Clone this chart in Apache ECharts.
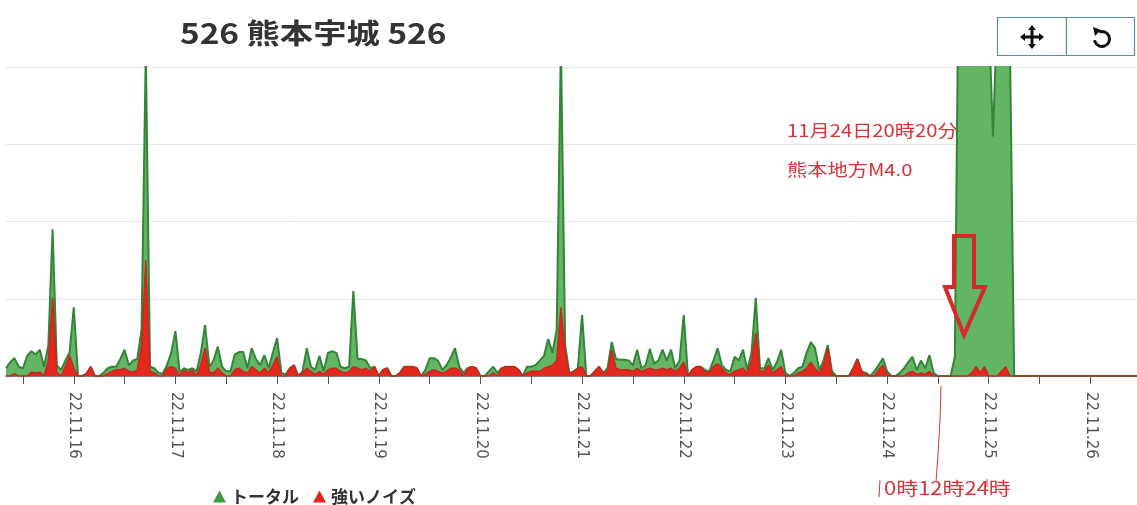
<!DOCTYPE html>
<html><head><meta charset="utf-8">
<script src="https://cdn.jsdelivr.net/npm/echarts@6/dist/echarts.min.js"></script>
<style>html,body{margin:0;padding:0;background:#fff}#c{width:1137px;height:505px}</style>
</head><body><div id="c"></div>
<script>
// hourly samples starting 22.11.15 08:00
const startDay = 15, startHour = 8;
const dayLabels = ['22.11.16','22.11.17','22.11.18','22.11.19','22.11.20','22.11.21','22.11.22','22.11.23','22.11.24','22.11.25','22.11.26'];
const seriesNames = ['トータル', '強いノイズ'];
const total = [
 10,18,23,12,10,26,32,28,34,12,40,190,14,8,20,30,89,
 0,0,3,12,0,0,4,10,12,12,22,34,14,20,22,60,420,12,10,4,3,14,30,58,
 5,10,8,10,6,30,66,12,20,38,12,6,6,28,31,31,10,36,22,14,27,10,30,49,
 4,2,10,14,0,6,36,12,8,26,6,30,32,30,12,10,12,110,22,22,20,10,12,0,
 8,10,0,0,4,12,12,12,10,0,8,23,23,20,8,14,24,36,12,4,10,12,10,0,
 0,6,12,4,10,12,12,12,8,0,12,12,14,20,26,48,30,60,430,40,4,6,10,79,
 0,0,6,12,4,10,44,22,21,21,20,14,34,10,14,35,16,20,34,20,34,10,20,79,
 0,8,12,12,8,6,20,36,14,8,6,25,20,34,8,30,101,10,10,23,8,18,34,4,
 0,4,10,12,30,44,36,8,20,40,6,0,0,0,0,10,22,6,4,0,6,14,23,6,
 0,0,4,10,18,25,8,20,10,27,4,0,0,0,0,25,600,3000,3000,3000,3000,2800,2600,470,
 310,470,2500,2000,430,0,
 0,0,0,0,0,0,0,0,0,0,0,0,0,0,0,0,0,0,0,0,0,0,0,0,0,0,0,0,0
];
const noise = [
 0,0,3,0,0,0,5,4,5,0,20,101,5,0,12,27,10,
 0,0,3,12,0,0,0,3,6,8,8,10,6,5,8,40,150,6,4,0,0,10,12,10,
 0,8,4,8,0,15,36,5,4,10,4,0,0,8,10,6,4,12,8,4,10,4,14,25,
 0,0,10,14,0,4,10,6,2,6,2,8,10,10,6,4,6,12,10,8,10,6,12,0,
 8,10,0,0,4,12,12,12,10,0,2,6,8,6,4,6,10,10,8,0,10,12,10,0,
 0,0,4,0,10,12,12,12,8,0,4,6,6,6,10,12,14,20,89,30,2,6,10,12,
 0,0,6,12,4,6,34,10,8,8,8,6,10,6,8,10,8,8,10,8,10,6,10,18,
 0,8,12,12,6,4,12,16,10,4,2,6,8,10,4,20,56,6,6,14,4,8,12,0,
 0,0,4,6,10,18,10,4,14,36,2,0,0,0,0,10,22,6,2,0,0,8,14,2,
 0,0,0,0,4,6,2,4,2,6,0,0,0,0,0,0,0,0,0,4,12,4,12,0,
 0,0,6,12,0,0,
 0,0,0,0,0,0,0,0,0,0,0,0,0,0,0,0,0,0,0,0,0,0,0,0,0,0,0,0,0
];

const categories = [];
for (let i = 0; i < total.length; i++) {
  const h = startHour + i;
  const d = startDay + Math.floor(h / 24);
  const hh = h % 24;
  categories.push('22.11.' + d + ' ' + (hh < 10 ? '0' + hh : hh));
}

const chart = echarts.init(document.getElementById('c'));
const red = '#d8333a';
function txt(x, y, text, font, fill, sx) {
  return {type: 'text', x: x, y: y, scaleX: sx, z: 100,
    style: {text: text, font: font, fill: fill, align: 'left', verticalAlign: 'top'}};
}
chart.setOption({
  animation: false,
  grid: {left: 6, right: 0, top: 67, bottom: 129},
  legend: {
    left: 208, top: 483, itemWidth: 13, itemHeight: 12, itemGap: 14,
    data: [{name: seriesNames[0], icon: 'triangle'}, {name: seriesNames[1], icon: 'triangle'}],
    textStyle: {fontSize: 17, fontWeight: 'bold', color: '#333', fontFamily: 'Noto Sans CJK JP'}
  },
  xAxis: {
    type: 'category', data: categories, boundaryGap: false,
    axisLine: {lineStyle: {color: '#6b5a55', width: 1.5}},
    axisTick: {length: 8, lineStyle: {color: '#555'},
      interval: (idx, v) => (parseInt(v.split(' ')[1], 10) % 12) === 0},
    axisLabel: {rotate: -90, margin: 16, fontSize: 15, color: '#555', fontFamily: 'DejaVu Sans',
      interval: (idx, v) => v.split(' ')[1] === '00',
      formatter: v => v.split(' ')[0]},
    splitLine: {show: false}
  },
  yAxis: {
    type: 'value', min: 0, max: 400, interval: 100,
    axisLabel: {show: false}, axisLine: {show: false}, axisTick: {show: false},
    splitLine: {lineStyle: {color: '#e8e8e8'}}
  },
  series: [
    {name: seriesNames[0], type: 'line', data: total, symbol: 'none', color: '#3d9a3d',
     lineStyle: {color: '#34853a', width: 2}, areaStyle: {color: '#63b463', opacity: 1}, z: 2},
    {name: seriesNames[1], type: 'line', data: noise, symbol: 'none', color: '#e0251c',
     lineStyle: {color: '#c22a22', width: 1.5}, areaStyle: {color: '#e5281d', opacity: 1}, z: 3}
  ],
  graphic: [
    txt(180, 19, '526 熊本宇城 526', 'bold 28px "Noto Sans CJK JP"', '#333', 1.19),
    // toolbox boxes
    {type: 'rect', z: 100, shape: {x: 997.5, y: 17.5, width: 69, height: 38}, style: {fill: '#fff', stroke: '#5b8fa0', lineWidth: 1.2}},
    {type: 'rect', z: 100, shape: {x: 1066.5, y: 17.5, width: 68, height: 38}, style: {fill: '#fff', stroke: '#5b8fa0', lineWidth: 1.2}},
    {type: 'line', z: 101, shape: {x1: 1023, y1: 37, x2: 1041, y2: 37}, style: {stroke: '#111', lineWidth: 3}},
    {type: 'line', z: 101, shape: {x1: 1032, y1: 28, x2: 1032, y2: 46}, style: {stroke: '#111', lineWidth: 3}},
    {type: 'polygon', z: 101, shape: {points: [[1020, 37], [1025, 33], [1025, 41]]}, style: {fill: '#111'}},
    {type: 'polygon', z: 101, shape: {points: [[1044, 37], [1039, 33], [1039, 41]]}, style: {fill: '#111'}},
    {type: 'polygon', z: 101, shape: {points: [[1032, 25], [1028, 30], [1036, 30]]}, style: {fill: '#111'}},
    {type: 'polygon', z: 101, shape: {points: [[1032, 49], [1028, 44], [1036, 44]]}, style: {fill: '#111'}},
    {type: 'arc', z: 101, shape: {cx: 1102, cy: 39, r: 7.5, startAngle: -Math.PI * 0.62, endAngle: -Math.PI * 1.05, clockwise: true}, style: {stroke: '#111', lineWidth: 3, fill: null}},
    {type: 'polygon', z: 101, shape: {points: [[1093, 27], [1101, 30], [1095, 36]]}, style: {fill: '#111'}},
    // annotations
    txt(787, 122, '11月24日20時20分', '17px "Noto Sans CJK JP"', red, 1.19),
    txt(787, 161, '熊本地方M4.0', '17px "Noto Sans CJK JP"', red, 1.19),
    {type: 'polygon', z: 100, shape: {points: [[954, 236], [974, 236], [974, 287], [985, 287], [964, 335], [945, 287], [954, 287]]},
     style: {fill: null, stroke: '#d42a2a', lineWidth: 4, lineJoin: 'miter'}},
    {type: 'line', z: 100, shape: {x1: 880, y1: 480, x2: 879, y2: 497}, style: {stroke: red, lineWidth: 1}},
    {type: 'polyline', z: 100, shape: {points: [[941, 386], [940, 420], [938, 455], [936, 482]]}, style: {stroke: red, lineWidth: 1, fill: null}},
    {type: 'line', z: 100, shape: {x1: 987, y1: 479, x2: 987, y2: 487}, style: {stroke: red, lineWidth: 1}},
    txt(884, 479, '0時12時24時', '18px "Noto Sans CJK JP"', red, 1.22)
  ]
});
</script></body></html>
